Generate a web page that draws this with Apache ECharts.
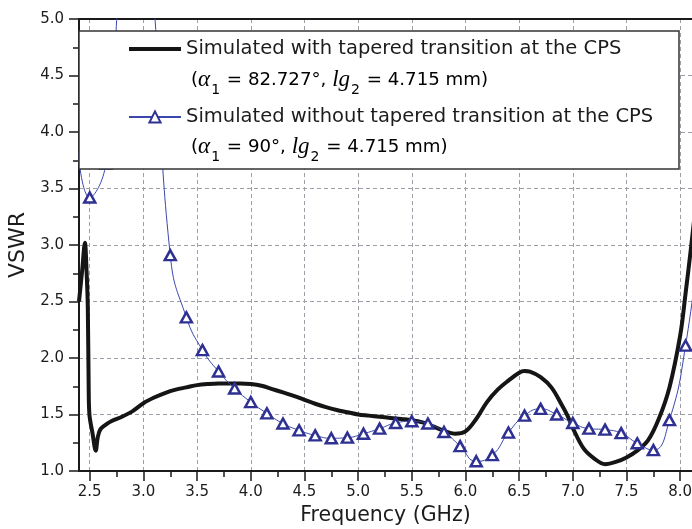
<!DOCTYPE html>
<html>
<head>
<meta charset="utf-8">
<script src="https://cdn.jsdelivr.net/npm/echarts@6/dist/echarts.min.js"></script>
<style>
  html, body { margin: 0; padding: 0; background: #fff; }
  #chart { width: 692px; height: 529px; }
</style>
</head>
<body>
<div id="chart"></div>
<script>
// VSWR of the antenna with and without the tapered CPS transition
const seriesNames = [
  'Simulated with tapered transition at the CPS',
  'Simulated without tapered transition at the CPS'
];

const taperFreq = [2.40, 2.43, 2.455, 2.47, 2.482, 2.49, 2.497, 2.525, 2.556, 2.575,
  2.60, 2.65, 2.70, 2.80, 2.90, 3.00, 3.10, 3.20, 3.30, 3.40,
  3.50, 3.60, 3.70, 3.80, 3.90, 4.00, 4.10, 4.20, 4.30, 4.40,
  4.50, 4.60, 4.70, 4.80, 4.90, 5.00, 5.10, 5.20, 5.30, 5.40,
  5.50, 5.60, 5.70, 5.80, 5.90, 6.00, 6.10, 6.20, 6.30, 6.40,
  6.50, 6.55, 6.60, 6.70, 6.80, 6.90, 6.95, 7.00, 7.10, 7.20,
  7.30, 7.40, 7.50, 7.60, 7.70, 7.80, 7.90, 8.00, 8.05, 8.10, 8.15];
const taperVswr = [2.50, 2.78, 3.02, 2.78, 2.45, 1.75, 1.50, 1.34, 1.18, 1.30,
  1.37, 1.41, 1.44, 1.48, 1.53, 1.60, 1.65, 1.69, 1.72, 1.74,
  1.76, 1.77, 1.775, 1.775, 1.775, 1.77, 1.755, 1.725, 1.695, 1.665,
  1.63, 1.595, 1.565, 1.54, 1.52, 1.50, 1.49, 1.48, 1.47, 1.46,
  1.45, 1.43, 1.395, 1.355, 1.33, 1.35, 1.46, 1.61, 1.72, 1.80,
  1.87, 1.885, 1.88, 1.83, 1.74, 1.58, 1.49, 1.38, 1.20, 1.11,
  1.06, 1.08, 1.12, 1.18, 1.27, 1.46, 1.74, 2.20, 2.57, 2.97, 3.40];

const plainFreq = [2.35, 2.50, 2.65, 2.80, 2.95, 3.10, 3.25, 3.40, 3.55, 3.70,
  3.85, 4.00, 4.15, 4.30, 4.45, 4.60, 4.75, 4.90, 5.05, 5.20,
  5.35, 5.50, 5.65, 5.80, 5.95, 6.10, 6.25, 6.40, 6.55, 6.70,
  6.85, 7.00, 7.15, 7.30, 7.45, 7.60, 7.75, 7.90, 8.05, 8.20];
const plainVswr = [4.35, 3.42, 3.72, 5.6, 6.6, 5.1, 2.91, 2.36, 2.07, 1.88,
  1.73, 1.61, 1.51, 1.42, 1.36, 1.315, 1.29, 1.295, 1.33, 1.375,
  1.425, 1.44, 1.42, 1.345, 1.22, 1.086, 1.14, 1.34, 1.49, 1.55,
  1.50, 1.425, 1.375, 1.366, 1.335, 1.245, 1.185, 1.45, 2.11, 3.2];

const xMajorTicks = [2.5, 3.0, 3.5, 4.0, 4.5, 5.0, 5.5, 6.0, 6.5, 7.0, 7.5, 8.0];
const xMinorTicks = [2.75, 3.25, 3.75, 4.25, 4.75, 5.25, 5.75, 6.25, 6.75, 7.25, 7.75];

const xRange = [2.4, 8.11];
const yRange = [1.0, 5.0];

const FONT = 'DejaVu Sans';
const INK = '#1c1c1c';
const AXIS = '#1a1a1a';
const GRIDLINE = '#9ba0a8';
const BLUE = '#2e3192';
const BLUE_LINE = '#3b47ad';

const pair = (xs, ys) => xs.map((x, i) => [x, ys[i]]);

const chart = echarts.init(document.getElementById('chart'), null, { renderer: 'canvas' });

// parameter lines under each legend entry, with italic symbols and subscripts
const subRich = {
  p: { fontFamily: FONT, fontSize: 18.2, lineHeight: 34, color: INK },
  g: { fontFamily: 'Liberation Serif', fontStyle: 'italic', fontSize: 23, lineHeight: 34, color: INK },
  s: { fontFamily: FONT, fontSize: 14, lineHeight: 14, verticalAlign: 'bottom', color: INK, padding: [0, 1, 0, 1] }
};

chart.setOption({
  animation: false,
  backgroundColor: '#fff',
  grid: { left: 79, right: 0, top: 19, bottom: 58, outerBoundsMode: 'none', containLabel: false },
  xAxis: [
    {
      type: 'value', position: 'bottom', min: xRange[0], max: xRange[1],
      name: 'Frequency (GHz)', nameLocation: 'middle', nameGap: 33,
      nameTextStyle: { fontFamily: FONT, fontSize: 20.5, color: INK },
      axisLine: { show: true, onZero: false, lineStyle: { color: AXIS, width: 2 } },
      axisTick: { show: true, customValues: xMajorTicks, length: 10, lineStyle: { color: AXIS, width: 1.5 } },
      axisLabel: { customValues: xMajorTicks, margin: 14, fontFamily: FONT, fontSize: 15, color: INK,
                   formatter: v => v.toFixed(1) },
      splitLine: { show: true, lineStyle: { color: GRIDLINE, width: 1, type: [4, 3] } }
    },
    {
      type: 'value', position: 'bottom', min: xRange[0], max: xRange[1],
      axisLine: { show: false },
      axisTick: { show: true, customValues: xMinorTicks, length: 6, lineStyle: { color: AXIS, width: 1.5 } },
      axisLabel: { show: false },
      splitLine: { show: false }
    },
    {
      type: 'value', position: 'top', min: xRange[0], max: xRange[1],
      axisLine: { show: true, onZero: false, lineStyle: { color: AXIS, width: 2 } },
      axisTick: { show: false }, axisLabel: { show: false }, splitLine: { show: false }
    }
  ],
  yAxis: {
    type: 'value', min: yRange[0], max: yRange[1], interval: 0.5,
    name: 'VSWR', nameLocation: 'middle', nameGap: 41, nameRotate: 90,
    nameTextStyle: { fontFamily: FONT, fontSize: 22, color: INK },
    axisLine: { show: true, onZero: false, lineStyle: { color: AXIS, width: 2 } },
    axisTick: { show: true, length: 10, lineStyle: { color: AXIS, width: 1.5 } },
    minorTick: { show: true, splitNumber: 2, length: 6, lineStyle: { color: AXIS, width: 1.5 } },
    axisLabel: { margin: 15, fontFamily: FONT, fontSize: 15, color: INK, formatter: v => v.toFixed(1) },
    splitLine: { show: true, lineStyle: { color: GRIDLINE, width: 1, type: [4, 3] } }
  },
  legend: {
    orient: 'vertical', left: 79, top: 31, z: 10,
    itemWidth: 52, itemHeight: 14, itemGap: 48,
    padding: [8, 13, 42, 49],
    backgroundColor: '#fff', borderColor: '#333', borderWidth: 1.5, borderRadius: 0,
    selectedMode: false,
    textStyle: { fontFamily: FONT, fontSize: 19.5, lineHeight: 20, color: INK, width: 480 },
    data: [
      { name: seriesNames[0], icon: 'path://M0 0H52V4H0Z' },
      { name: seriesNames[1] }
    ]
  },
  graphic: [
    {
      type: 'text', left: 191, top: 68.5, z: 100,
      style: { text: '{p|(}{g|α}{s|1}{p| = 82.727°, }{g|lg}{s|2}{p| = 4.715 mm)}', rich: subRich }
    },
    {
      type: 'text', left: 191, top: 135.5, z: 100,
      style: { text: '{p|(}{g|α}{s|1}{p| = 90°, }{g|lg}{s|2}{p| = 4.715 mm)}', rich: subRich }
    }
  ],
  series: [
    {
      name: seriesNames[0], type: 'line', xAxisIndex: 0,
      data: pair(taperFreq, taperVswr),
      smooth: 0.35, symbol: 'none', clip: true,
      lineStyle: { color: '#151515', width: 4 },
      itemStyle: { color: '#151515' }
    },
    {
      name: seriesNames[1], type: 'line', xAxisIndex: 0,
      data: pair(plainFreq, plainVswr),
      smooth: 0.5, clip: true,
      symbol: 'triangle', symbolSize: [11, 10], showAllSymbol: true,
      lineStyle: { color: BLUE_LINE, width: 1 },
      itemStyle: { color: '#fff', borderColor: BLUE, borderWidth: 2.5 }
    }
  ]
});
</script>
</body>
</html>
